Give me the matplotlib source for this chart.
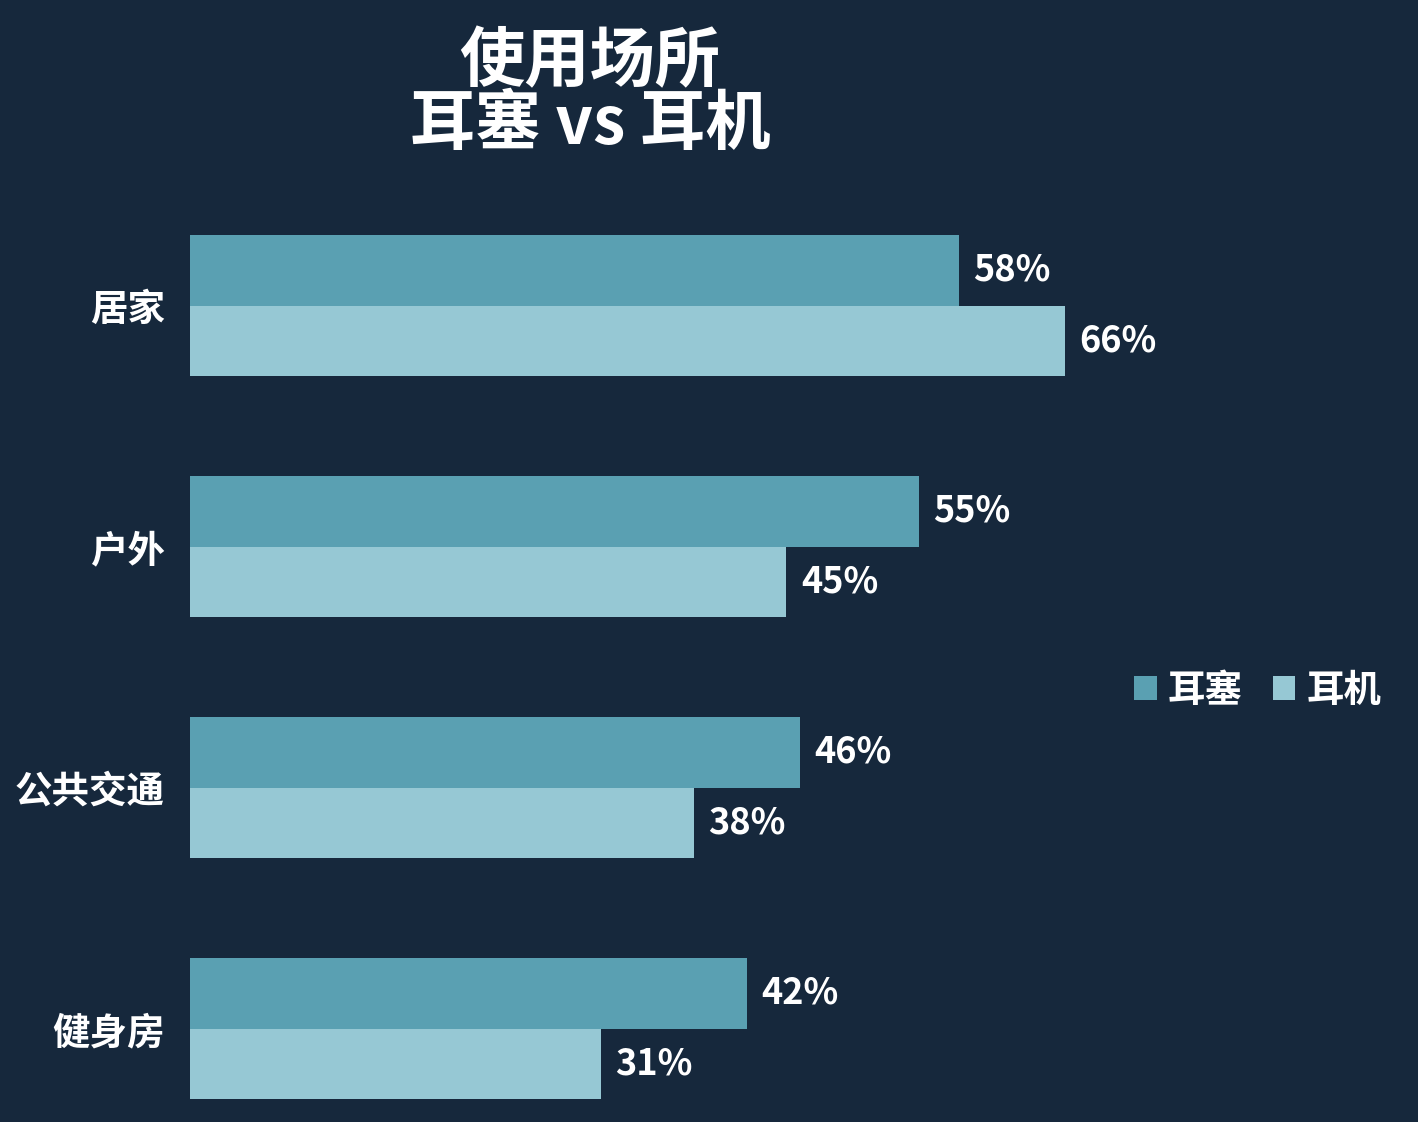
import matplotlib.pyplot as plt
import numpy as np

plt.rcParams['font.family'] = ['Noto Sans CJK SC', 'DejaVu Sans']

categories = ['居家', '户外', '公共交通', '健身房']
earplug = [58, 55, 46, 42]
headphone = [66, 45, 38, 31]
series_names = ['耳塞', '耳机']

bg = '#16283c'
c1 = '#5aa0b2'
c2 = '#96c8d4'

fig = plt.figure(figsize=(14.18, 11.22), dpi=100, facecolor=bg)
ax = fig.add_axes([0.134, 0.0205, 0.642, 0.770], facecolor=bg)

y = np.arange(len(categories))
h = 0.2925
b1 = ax.barh(y - h / 2, earplug, height=h, color=c1, label=series_names[0])
b2 = ax.barh(y + h / 2, headphone, height=h, color=c2, label=series_names[1])

for bars, vals in [(b1, earplug), (b2, headphone)]:
    for bar, v in zip(bars, vals):
        ax.text(bar.get_width() + 1.1, bar.get_y() + bar.get_height() / 2,
                f'{v}%', color='white', fontsize=26, fontweight='bold',
                va='center', ha='left')

ax.set_xlim(0, 68.7)
ax.set_ylim(len(categories) - 1 + h, -h)
ax.set_yticks(y)
ax.set_yticklabels(categories, fontsize=27, fontweight='bold', color='white')
ax.tick_params(axis='y', length=0, pad=18)
ax.set_xticks([])
for s in ax.spines.values():
    s.set_visible(False)

fig.text(0.416, 0.917, '使用场所\n耳塞 vs 耳机', color='white', fontsize=47,
         fontweight='bold', ha='center', va='center', linespacing=0.92)

leg = fig.legend(handles=[b1, b2], loc='center left', bbox_to_anchor=(0.776, 0.385),
                 ncol=2, frameon=False, fontsize=27, handlelength=0.6,
                 handleheight=0.6, handletextpad=0.3, columnspacing=0.8)
for t in leg.get_texts():
    t.set_color('white')
    t.set_fontweight('bold')

fig.savefig('out.png', dpi=100, facecolor=bg)
